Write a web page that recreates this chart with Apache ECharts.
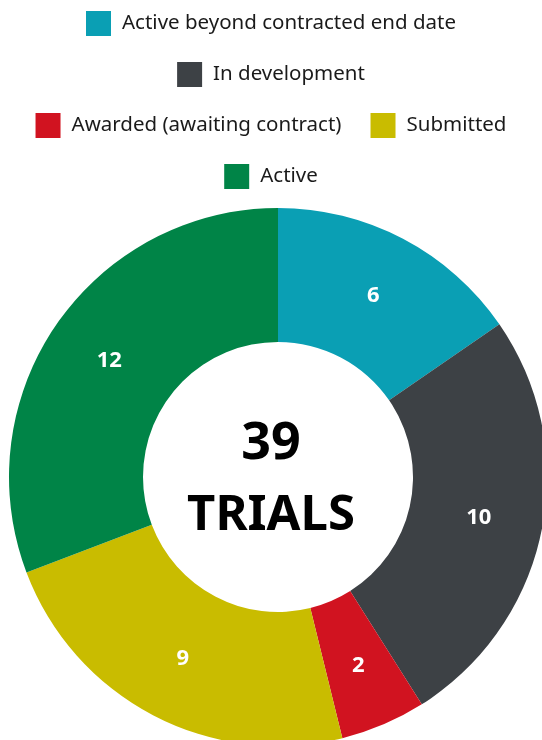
<!DOCTYPE html>
<html>
<head>
<meta charset="utf-8">
<script src="https://cdn.jsdelivr.net/npm/echarts@6/dist/echarts.min.js"></script>
<style>
  html, body { margin: 0; padding: 0; background: #fff; }
  #Chart { width: 542px; height: 740px; }
</style>
</head>
<body>
<div id="Chart"></div>
<script>
var categories = ['Active beyond contracted end date', 'In development', 'Awarded (awaiting contract)', 'Submitted', 'Active'];
var trialCounts = [6, 10, 2, 9, 12];
var sliceColors = ['#0a9fb4', '#3d4145', '#d11320', '#c9bc00', '#008447'];
var legendRows = [
    ['Active beyond contracted end date'],
    ['In development'],
    ['Awarded (awaiting contract)', 'Submitted'],
    ['Active']
];

var totalTrials = trialCounts.reduce(function (a, b) { return a + b; }, 0);

var Chart = echarts.init(document.getElementById('Chart'));

var legendList = legendRows.map(function (row, i) {
    return {
        data: row,
        left: 'center',
        top: 11 + i * 51,
        padding: 0,
        itemWidth: 25,
        itemHeight: 25,
        itemGap: 29,
        selectedMode: false,
        icon: 'rect',
        textStyle: {
            fontFamily: 'Noto Sans',
            fontSize: 20.5,
            color: '#1a1a1a',
            padding: [0, 0, 0, 6]
        }
    };
});

var ChartOption = {
    animation: false,
    color: sliceColors,
    legend: legendList,
    graphic: [
        {
            type: 'text',
            left: 'center',
            top: 418,
            style: {
                text: String(totalTrials),
                fontFamily: 'Noto Sans',
                fontWeight: 'bold',
                fontSize: 52,
                fill: '#000'
            }
        },
        {
            type: 'text',
            left: 'center',
            top: 492,
            style: {
                text: 'TRIALS',
                fontFamily: 'Noto Sans',
                fontWeight: 'bold',
                fontSize: 49,
                fill: '#000'
            }
        }
    ],
    series: [
        {
            name: 'Trials',
            type: 'pie',
            center: [278, 477],
            radius: [135, 269],
            startAngle: 90,
            clockwise: true,
            avoidLabelOverlap: false,
            label: {
                show: true,
                position: 'inside',
                formatter: '{c}',
                color: '#fff',
                fontFamily: 'Noto Sans',
                fontWeight: 'bold',
                fontSize: 22
            },
            labelLine: { show: false },
            itemStyle: { borderWidth: 0 },
            emphasis: { disabled: true },
            data: categories.map(function (name, i) {
                return { name: name, value: trialCounts[i] };
            })
        }
    ]
};

Chart.setOption(ChartOption);

window.addEventListener("resize", function () {
    Chart.resize();
});
</script>
</body>
</html>
